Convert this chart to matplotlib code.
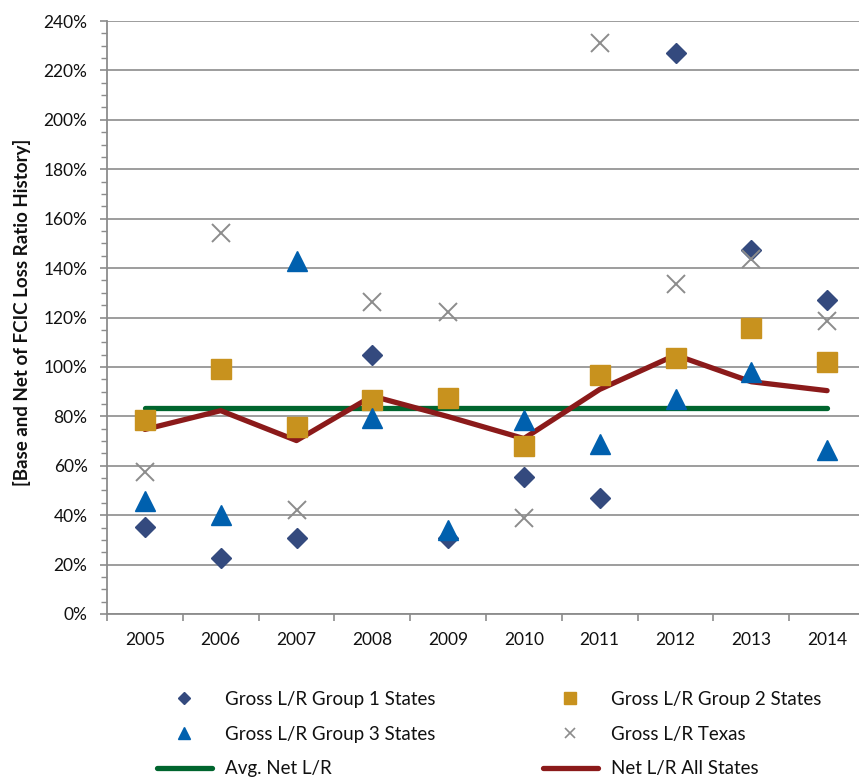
import matplotlib
matplotlib.use("Agg")
import matplotlib.pyplot as plt
from matplotlib.lines import Line2D
from matplotlib.ticker import MultipleLocator, FuncFormatter, FixedLocator

years = ["2005", "2006", "2007", "2008", "2009", "2010", "2011", "2012", "2013", "2014"]
group1 = [35.2, 22.7, 30.8, 104.9, 30.8, 55.4, 46.8, 226.9, 147.3, 127.1]
group2 = [78.5, 99.0, 75.6, 86.6, 87.3, 68.1, 96.7, 103.5, 115.6, 102.1]
group3 = [45.7, 39.9, 143.0, 79.4, 34.0, 78.4, 68.9, 87.0, 98.0, 66.5]
texas = [57.3, 154.2, 42.1, 126.4, 122.4, 39.0, 231.0, 133.6, 143.5, 118.7]
avg_net = [83.5] * 10
net_all = [74.7, 82.3, 70.2, 88.2, 79.9, 71.0, 90.9, 104.8, 94.0, 90.4]

labels = ["Gross L/R Group 1 States", "Gross L/R Group 2 States",
          "Gross L/R Group 3 States", "Gross L/R Texas",
          "Avg. Net L/R", "Net L/R All States"]

C1 = "#344A7E"
C2 = "#C8921E"
C3 = "#0060AE"
CX = "#8C8C8C"
CG = "#00652E"
CR = "#8B1A1A"
GRID = "#8C8C8C"
TXT = "#111111"

plt.rcParams['font.family'] = ['Lato', 'DejaVu Sans']

W, H = 859, 777
fig = plt.figure(figsize=(W / 100, H / 100), dpi=100)
ax = fig.add_axes([107 / W, 163 / H, 758 / W, 593 / H])

x = list(range(len(years)))
ax.plot(x, avg_net, color=CG, lw=3.8, solid_capstyle='round', zorder=2)
ax.plot(x, net_all, color=CR, lw=3.8, solid_capstyle='round', zorder=2.1)
ax.plot(x, group1, ls='none', marker='D', ms=10.5, color=C1, zorder=3)
ax.plot(x, group2, ls='none', marker='s', ms=14.5, color=C2, zorder=3.1)
ax.plot(x, group3, ls='none', marker='^', ms=14.5, color=C3, zorder=3.2)
ax.plot(x, texas, ls='none', marker='x', ms=13, mew=1.4, color=CX, zorder=3.3)

ax.set_xlim(-0.5, 9.5)
ax.set_ylim(0, 240)
ax.yaxis.set_major_locator(MultipleLocator(20))
ax.yaxis.set_minor_locator(MultipleLocator(5))
ax.yaxis.set_major_formatter(FuncFormatter(lambda v, p: f"{v:.0f}%"))
ax.xaxis.set_major_locator(FixedLocator(x))
ax.set_xticklabels(years)
ax.xaxis.set_minor_locator(FixedLocator([i - 0.5 for i in range(11)]))

ax.grid(axis='y', which='major', color=GRID, lw=1.2, zorder=0)
ax.set_axisbelow(True)
for s in ['top', 'right']:
    ax.spines[s].set_visible(False)
for s in ['left', 'bottom']:
    ax.spines[s].set_color(GRID)
    ax.spines[s].set_linewidth(1.3)

ax.tick_params(axis='y', which='major', length=5, width=1.2, color=GRID,
               labelsize=12.5, pad=9, labelcolor=TXT)
ax.tick_params(axis='y', which='minor', length=4, width=1.0, color=GRID)
ax.tick_params(axis='x', which='major', length=0, labelsize=12.5, pad=13,
               labelcolor=TXT)
ax.tick_params(axis='x', which='minor', length=5, width=1.2, color=GRID)

fig.text(22 / W, 1 - 312 / H, "[Base and Net of FCIC Loss Ratio History]",
         rotation=90, ha='center', va='center', fontsize=13.5,
         fontweight='bold', color=TXT)

h1 = Line2D([], [], ls='none', marker='D', ms=6, color=C1)
h2 = Line2D([], [], ls='none', marker='s', ms=8.5, color=C2)
h3 = Line2D([], [], ls='none', marker='^', ms=8, color=C3)
h4 = Line2D([], [], ls='none', marker='x', ms=7, mew=1.2, color=CX)
h5 = Line2D([], [], color=CG, lw=3.8, solid_capstyle='round')
h6 = Line2D([], [], color=CR, lw=3.8, solid_capstyle='round')

common = dict(frameon=False, fontsize=13.5, handlelength=2.93,
              handletextpad=0.72, labelspacing=0.94, borderpad=0,
              borderaxespad=0, loc='upper left', labelcolor=TXT)
leg1 = fig.legend([h1, h3, h5], [labels[0], labels[2], labels[4]],
                  bbox_to_anchor=(157 / W, 1 - 691 / H), **common)
leg2 = fig.legend([h2, h4, h6], [labels[1], labels[3], labels[5]],
                  bbox_to_anchor=(543 / W, 1 - 691 / H), **common)

fig.savefig("out.png", dpi=100)
